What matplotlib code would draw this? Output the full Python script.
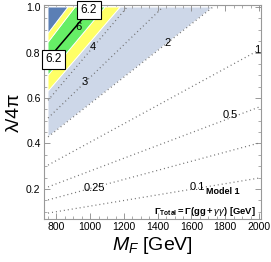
import numpy as np
import matplotlib.pyplot as plt
from matplotlib.ticker import MultipleLocator

plt.rcParams['font.family'] = ['Liberation Sans', 'DejaVu Sans']
plt.rcParams['mathtext.fontset'] = 'custom'
plt.rcParams['mathtext.rm'] = 'Liberation Sans'
plt.rcParams['mathtext.it'] = 'Liberation Sans:italic'
plt.rcParams['mathtext.bf'] = 'Liberation Sans:bold'

# dotted Gamma_total contours: label, (M_F, lambda/4pi) at both ends
gam_levels = ['0.1', '0.25', '0.5', '1', '2', '3', '4']
gam_m = [[750, 2000], [750, 2000], [750, 2000], [750, 2000],
         [750, 1727], [750, 1431], [750, 1218]]
gam_lam = [[0.094, 0.248], [0.152, 0.402], [0.209, 0.560], [0.305, 0.811],
           [0.429, 1.0], [0.512, 1.0], [0.590, 1.0]]
lab_m = [1633, 1022, 1828, 1988, 1461, 969, 1017]
lab_lam = [0.209, 0.204, 0.525, 0.811, 0.842, 0.670, 0.824]

# band edges: lambda at M_F=750 and M_F where the edge hits lambda=1
edge_lam = [0.63, 0.70, 0.845, 0.885]
edge_m = [1177, 1088, 910, 868]
band_cols = ['#ffff66', '#66ee66', '#ffff66']

# Gamma = 6.2 line
m62 = [750, 1013]
lam62 = [0.771, 1.0]

fig = plt.figure(figsize=(2.71, 2.62), dpi=100)
ax = fig.add_axes([44/271, 43/262, 217/271, 214/262])

# light blue region between the "2" contour and the first band
ax.fill([750, gam_m[4][1], edge_m[0], 750],
        [gam_lam[4][0], 1.0, 1.0, edge_lam[0]],
        facecolor='#cdd7e8', edgecolor='white', lw=0.6, zorder=1)

for i in range(len(gam_levels)):
    ax.plot(gam_m[i], gam_lam[i], color='#707070', lw=0.9,
            linestyle=(0, (0.8, 2.4)), zorder=2)

for i in range(3):
    ax.fill([750, edge_m[i], edge_m[i+1], 750],
            [edge_lam[i], 1.0, 1.0, edge_lam[i+1]],
            facecolor=band_cols[i], edgecolor='white', lw=0.6, zorder=3)
ax.fill([750, edge_m[3], 750], [edge_lam[3], 1.0, 1.0],
        facecolor='#5b7fb5', edgecolor='white', lw=0.6, zorder=3)

ax.plot(m62, lam62, color='black', lw=1.1, zorder=4)
ax.text(928, 0.912, '6', fontsize=8, ha='center', va='center', zorder=5)
for bm, bl in [(780, 0.771), (993, 0.987)]:
    ax.text(bm, bl, '6.2', fontsize=8.5, ha='center', va='center', zorder=6,
            bbox=dict(facecolor='white', edgecolor='black', lw=0.8, pad=2.5))

for i in range(len(gam_levels)):
    ax.text(lab_m[i], lab_lam[i], gam_levels[i], fontsize=8,
            ha='center', va='center', zorder=5)

ax.text(1787, 0.187, 'Model 1', fontsize=6.5, fontweight='bold',
        ha='center', va='center', zorder=5)
ax.text(1680, 0.103, r'$\mathbf{\Gamma_{Total}=\Gamma(gg+}\gamma\gamma\mathbf{)\ [GeV]}$',
        fontsize=6.8, ha='center', va='center', zorder=5)

ax.set_xlim(726, 2012)
ax.set_ylim(0.068, 1.009)
ax.xaxis.set_major_locator(MultipleLocator(200))
ax.xaxis.set_minor_locator(MultipleLocator(50))
ax.yaxis.set_major_locator(MultipleLocator(0.2))
ax.yaxis.set_minor_locator(MultipleLocator(0.05))
ax.tick_params(which='both', direction='in', top=True, right=True,
               color='#888888', labelsize=7.5, pad=2.5)
ax.tick_params(which='major', length=4, width=0.6)
ax.tick_params(which='minor', length=2, width=0.5)
for s in ax.spines.values():
    s.set_color('#999999')
    s.set_linewidth(0.8)

ax.set_xlabel(r'$M_F$ [GeV]', fontsize=14, labelpad=2)
ax.set_ylabel('λ/4π', fontsize=14, labelpad=2)

fig.savefig('out.png', dpi=100)
